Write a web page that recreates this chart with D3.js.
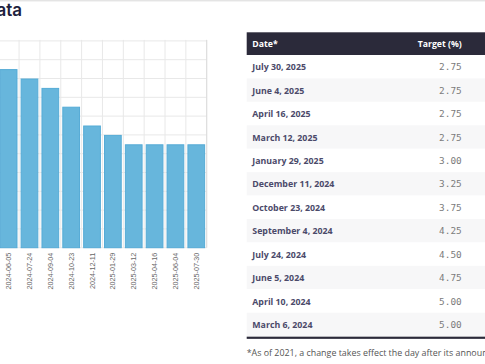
<!DOCTYPE html>
<html><head><meta charset="utf-8">
<script src="https://cdn.jsdelivr.net/npm/d3@7/dist/d3.min.js"></script>
<style>html,body{margin:0;padding:0;background:#fff;overflow:hidden}</style>
</head><body>
<svg id="c" width="485" height="364"></svg>
<script>
// Chart data (visible bars)
const barDates = ["2024-06-05","2024-07-24","2024-09-04","2024-10-23","2024-12-11","2025-01-29","2025-03-12","2025-04-16","2025-06-04","2025-07-30"];
const barValues = [4.75,4.50,4.25,3.75,3.25,3.00,2.75,2.75,2.75,2.75];
const yTicks = [0,0.5,1,1.5,2,2.5,3,3.5,4,4.5,5,5.5];
// Table data
const tableDates = ["July 30, 2025","June 4, 2025","April 16, 2025","March 12, 2025","January 29, 2025","December 11, 2024","October 23, 2024","September 4, 2024","July 24, 2024","June 5, 2024","April 10, 2024","March 6, 2024"];
const tableTargets = ["2.75","2.75","2.75","2.75","3.00","3.25","3.75","4.25","4.50","4.75","5.00","5.00"];
const headers = ["Date*","Target (%)"];
const title = "Data";
const footnote = "*As of 2021, a change takes effect the day after its announcement.";

(function(){
const svg = d3.select("#c");

svg.append("rect").attr("x",0).attr("y",0).attr("width",485).attr("height",1).attr("fill","#e4e4e4");
svg.append("rect").attr("x",0).attr("y",1).attr("width",485).attr("height",1).attr("fill","#f3f3f3");

svg.append("text").attr("x",22).attr("y",15.5).attr("text-anchor","end")
  .attr("font-family","Inter, 'Noto Sans', sans-serif").attr("font-weight",600)
  .attr("font-size",17).attr("fill","#201e3d").text(title);

const plotRight = 206.7, plotTop = 40.9, plotBottom = 247.7, step = 20.85;
const x = d3.scaleBand().domain(barDates).range([plotRight - step*barDates.length, plotRight])
  .paddingInner(0.15).paddingOuter(0.075);
const y = d3.scaleLinear().domain([0,5.5]).range([plotBottom, plotTop]);

const g = svg.append("g");
g.selectAll("line.h").data(yTicks).join("line")
  .attr("x1",-5).attr("x2",plotRight).attr("y1",d=>y(d)).attr("y2",d=>y(d))
  .attr("stroke","#e8e8e8").attr("stroke-width",1);
const bounds = d3.range(barDates.length+1).map(i => x.range()[0] + i*x.step());
g.selectAll("line.v").data(bounds).join("line")
  .attr("x1",d=>d).attr("x2",d=>d).attr("y1",plotTop-1).attr("y2",plotBottom)
  .attr("stroke","#e8e8e8").attr("stroke-width",1);
g.append("line").attr("x1",plotRight).attr("x2",plotRight).attr("y1",plotTop-1).attr("y2",plotBottom)
  .attr("stroke","#dcdcdc");

g.selectAll("rect.bar").data(barDates).join("rect")
  .attr("x",d=>x(d)+0.5).attr("width",x.bandwidth()-1)
  .attr("y",(d,i)=>y(barValues[i])+0.5).attr("height",(d,i)=>plotBottom - y(barValues[i]) - 0.5)
  .attr("fill","#67b6dc").attr("stroke","#55abd6").attr("stroke-width",1);

g.selectAll("text.xl").data(barDates).join("text")
  .attr("transform",d=>`translate(${x(d)+x.bandwidth()/2+2.5},${plotBottom+5}) rotate(-90)`)
  .attr("text-anchor","end").attr("font-family","'Liberation Sans', Arial, sans-serif")
  .attr("font-size",7.2).attr("fill","#666").text(d=>d);

const tx = 246.7, tw = 260, hTop = 32.3, hH = 22.7, rTop = 55, rH = 23.43;
const sansFont = "'Open Sans', sans-serif";
svg.append("rect").attr("x",tx).attr("y",hTop).attr("width",tw).attr("height",hH).attr("fill","#2b2a3a");
svg.append("text").attr("x",252.3).attr("y",hTop+hH/2+3.3)
  .attr("font-family",sansFont).attr("font-weight",700).attr("font-size",8.7)
  .attr("fill","#fff").text(headers[0]);
svg.append("text").attr("x",461.7).attr("y",hTop+hH/2+3.3).attr("text-anchor","end")
  .attr("font-family",sansFont).attr("font-weight",700).attr("font-size",8.7)
  .attr("fill","#fff").text(headers[1]);

const rows = svg.selectAll("g.row").data(tableDates).join("g")
  .attr("transform",(d,i)=>`translate(0,${rTop + i*rH})`);
rows.append("rect").attr("x",tx).attr("width",tw).attr("height",rH)
  .attr("fill",(d,i)=> i%2===1 ? "#f7f7f8" : "#ffffff");
rows.append("text").attr("x",252.3).attr("y",rH/2+3.6)
  .attr("font-family",sansFont).attr("font-weight",700).attr("font-size",8.8)
  .attr("fill","#4b4a6a").text(d=>d);
rows.append("text").attr("x",461.7).attr("y",rH/2+3.6).attr("text-anchor","end")
  .attr("font-family","'DejaVu Sans Mono', monospace").attr("font-size",9.4)
  .attr("fill","#7b7b7b").text((d,i)=>tableTargets[i]);

svg.append("rect").attr("x",tx).attr("y",rTop + tableDates.length*rH + 0.5).attr("width",tw).attr("height",2.2)
  .attr("fill","#2b2a3a");

svg.append("text").attr("x",246.7).attr("y",355.5)
  .attr("font-family",sansFont).attr("font-size",8.9)
  .attr("fill","#555").text(footnote);
})();
</script>
</body></html>
